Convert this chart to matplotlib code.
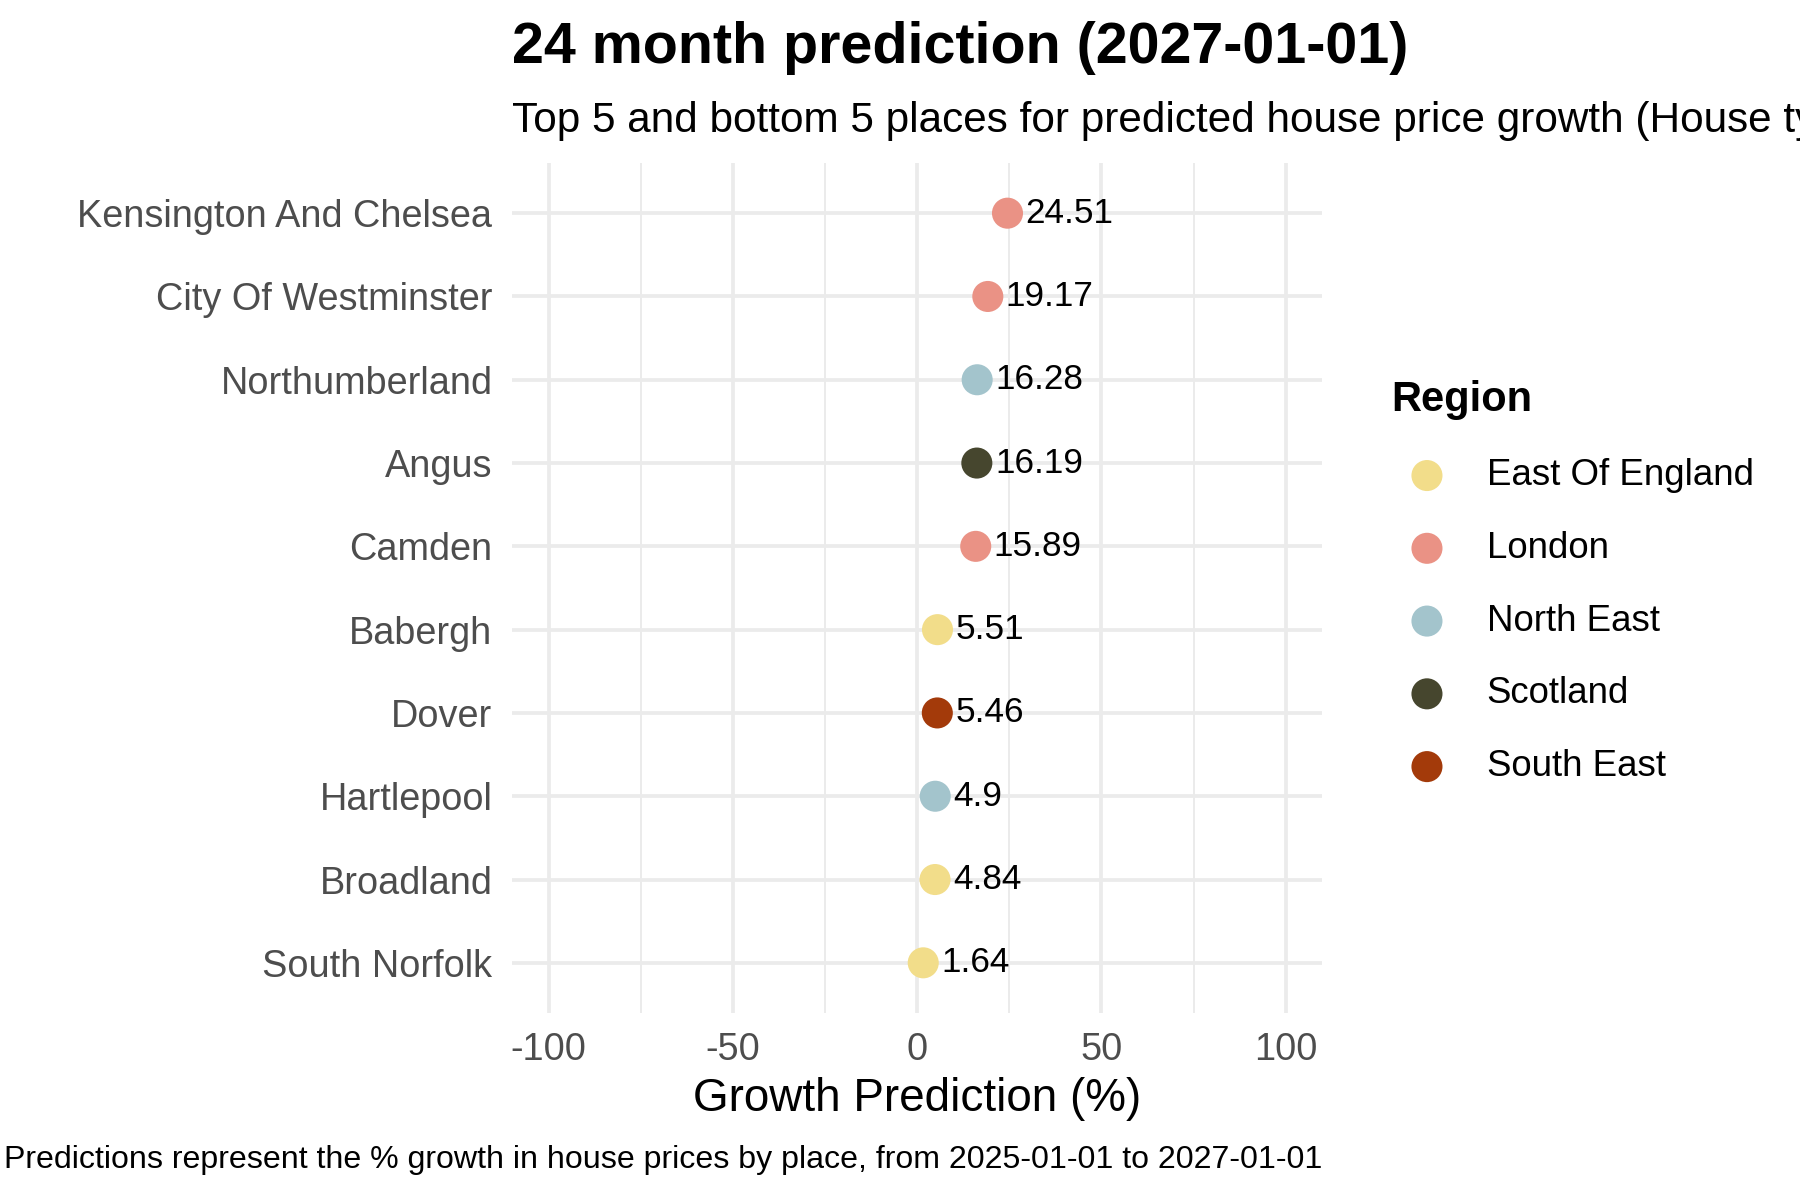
import numpy as np
import matplotlib
matplotlib.use("Agg")
import matplotlib.pyplot as plt

plt.rcParams['font.family'] = ['Liberation Sans', 'DejaVu Sans']

# data, top to bottom as shown
places = ["Kensington And Chelsea", "City Of Westminster", "Northumberland", "Angus",
          "Camden", "Babergh", "Dover", "Hartlepool", "Broadland", "South Norfolk"]
growth = [24.51, 19.17, 16.28, 16.19, 15.89, 5.51, 5.46, 4.9, 4.84, 1.64]
regions = ["London", "London", "North East", "Scotland", "London",
           "East Of England", "South East", "North East", "East Of England", "East Of England"]

region_names = ["East Of England", "London", "North East", "Scotland", "South East"]
region_colours = ["#F2DD8A", "#EA9285", "#A3C4CC", "#46462E", "#A33A0A"]
xticks = [-100, -50, 0, 50, 100]

fig = plt.figure(figsize=(18, 12), dpi=100)
ax = fig.add_axes([0.2844, 0.156, 0.4503, 0.708])

ypos = np.arange(len(places))[::-1] + 1
grid_col = "#EBEBEB"

# grid lines (ggplot minimal style)
for x in xticks:
    ax.axvline(x, color=grid_col, lw=2.7, zorder=0)
for x in [-75, -25, 25, 75]:
    ax.axvline(x, color=grid_col, lw=1.4, zorder=0)
for y in ypos:
    ax.axhline(y, color=grid_col, lw=2.7, zorder=0)

for name, col in zip(region_names, region_colours):
    idx = [i for i, r in enumerate(regions) if r == name]
    ax.scatter([growth[i] for i in idx], [ypos[i] for i in idx], s=500, color=col,
               edgecolor="none", label=name, zorder=3)

for v, y in zip(growth, ypos):
    ax.annotate(f"{v:g}", (v, y), xytext=(13, 0), textcoords="offset points",
                va="center", ha="left", fontsize=25.3, color="black", zorder=4)

ax.set_xlim(-110, 110)
ax.set_ylim(0.4, len(places) + 0.6)
ax.set_xticks(xticks)
ax.set_xticklabels([str(x) for x in xticks])
ax.set_yticks(ypos)
ax.set_yticklabels(places)
ax.tick_params(axis="both", length=0, labelsize=27.3, labelcolor="#4D4D4D")
ax.tick_params(axis="x", pad=14)
ax.tick_params(axis="y", pad=14)
for s in ax.spines.values():
    s.set_visible(False)
ax.set_facecolor("white")

fig.text(0.2844, 0.960, "24 month prediction (2027-01-01)", fontsize=41.3, fontweight="bold",
         ha="left", va="center")
fig.text(0.2844, 0.899,
         "Top 5 and bottom 5 places for predicted house price growth (House type: All)",
         fontsize=30.4, ha="left", va="center")
fig.text(0.2844 + 0.4503 / 2, 0.084, "Growth Prediction (%)", fontsize=33,
         ha="center", va="center")
fig.text(0.7347, 0.0335,
         "Predictions represent the % growth in house prices by place, from 2025-01-01 to 2027-01-01",
         fontsize=23.15, ha="right", va="center")

leg = fig.legend(loc="upper left", bbox_to_anchor=(0.773, 0.683), frameon=False,
                 title="Region", fontsize=26.4, title_fontproperties={"size": 30, "weight": "bold"},
                 handlelength=1.94, handletextpad=0.66, labelspacing=1.03,
                 borderpad=0, borderaxespad=0, alignment="left")

fig.savefig("out.png", dpi=100, facecolor="white")
